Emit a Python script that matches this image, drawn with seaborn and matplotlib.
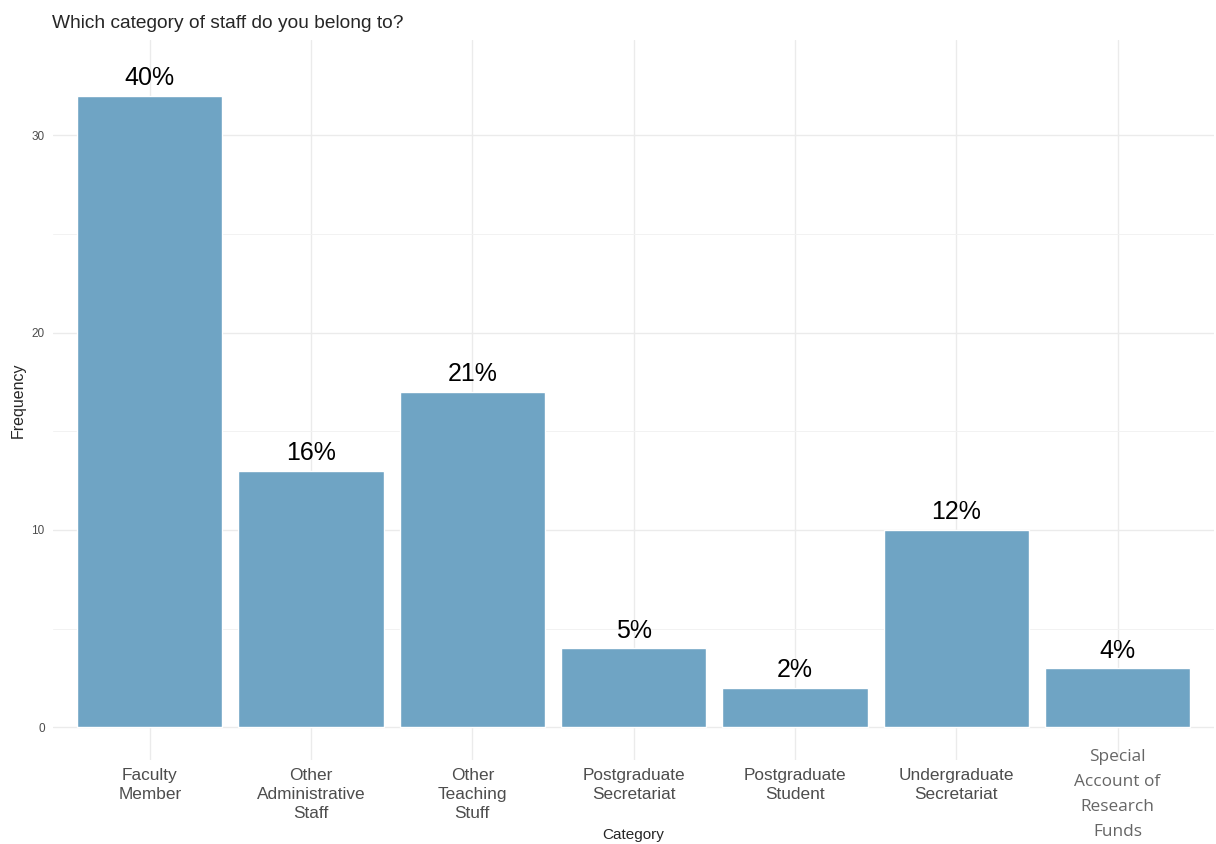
import numpy as np
import matplotlib.pyplot as plt
import matplotlib.transforms as mtransforms
import seaborn as sns
import pandas as pd

categories = ["Faculty\nMember", "Other\nAdministrative\nStaff", "Other\nTeaching\nStuff",
              "Postgraduate\nSecretariat", "Postgraduate\nStudent", "Undergraduate\nSecretariat",
              "Special\nAccount of\nResearch\nFunds"]
counts = [32, 13, 17, 4, 2, 10, 3]

df = pd.DataFrame({"Category": categories, "Frequency": counts})
pct = [f"{round(c / sum(counts) * 100):.0f}%" for c in counts]

sns.set_style("white")
plt.rcParams['font.family'] = ['Liberation Sans', 'DejaVu Sans']

fig = plt.figure(figsize=(12.16, 8.44), dpi=100)
ax = fig.add_axes([0.0436, 0.0995, 0.955, 0.853])

sns.barplot(data=df, x="Category", y="Frequency", color="#6fa4c4", saturation=1,
            width=0.9, ax=ax, zorder=2)

# ggplot-like expansion (upper limit includes room for the labels)
M = 33.17
ax.set_xlim(-0.6, len(categories) - 0.4)
ax.set_ylim(-0.05 * M, 1.05 * M)

# grid
ax.set_yticks([0, 10, 20, 30])
ax.set_yticks([5, 15, 25], minor=True)
ax.grid(True, which="major", color="#ebebeb", linewidth=1.0, zorder=0)
ax.grid(True, which="minor", axis="y", color="#f2f2f2", linewidth=0.7, zorder=0)
ax.set_axisbelow(True)
for s in ax.spines.values():
    s.set_visible(False)
ax.tick_params(axis="both", which="both", length=0)
ax.tick_params(axis="y", labelsize=8.5, labelcolor="#4d4d4d", pad=6)
ax.tick_params(axis="x", labelsize=12.4, labelcolor="#4d4d4d", pad=6)

for lab in ax.get_xticklabels():
    lab.set_linespacing(1.3)
    if lab.get_text().startswith("Special"):
        lab.set_family(["Open Sans", "DejaVu Sans"])
        lab.set_color("#666666")
        lab.set_linespacing(1.75)
        lab.set_transform(lab.get_transform() +
                          mtransforms.ScaledTranslation(0, 0.19, fig.dpi_scale_trans))

# percentage labels
for i, (c, p) in enumerate(zip(counts, pct)):
    ax.annotate(p, (i, c), xytext=(0, 4), textcoords="offset points",
                ha="center", va="bottom", fontsize=18, color="black")

ax.set_xlabel("Category", fontsize=11)
ax.xaxis.set_label_coords(0.5, -0.104)
ax.xaxis.label.set_va("center")
ax.set_ylabel("Frequency", fontsize=11.5)
ax.yaxis.set_label_coords(-0.030, 0.5)
ax.yaxis.label.set_va("center")

fig.text(0.043, 0.972, "Which category of staff do you belong to?", fontsize=13.8,
         ha="left", va="center")

fig.savefig("out.png", dpi=100)
plt.close()
